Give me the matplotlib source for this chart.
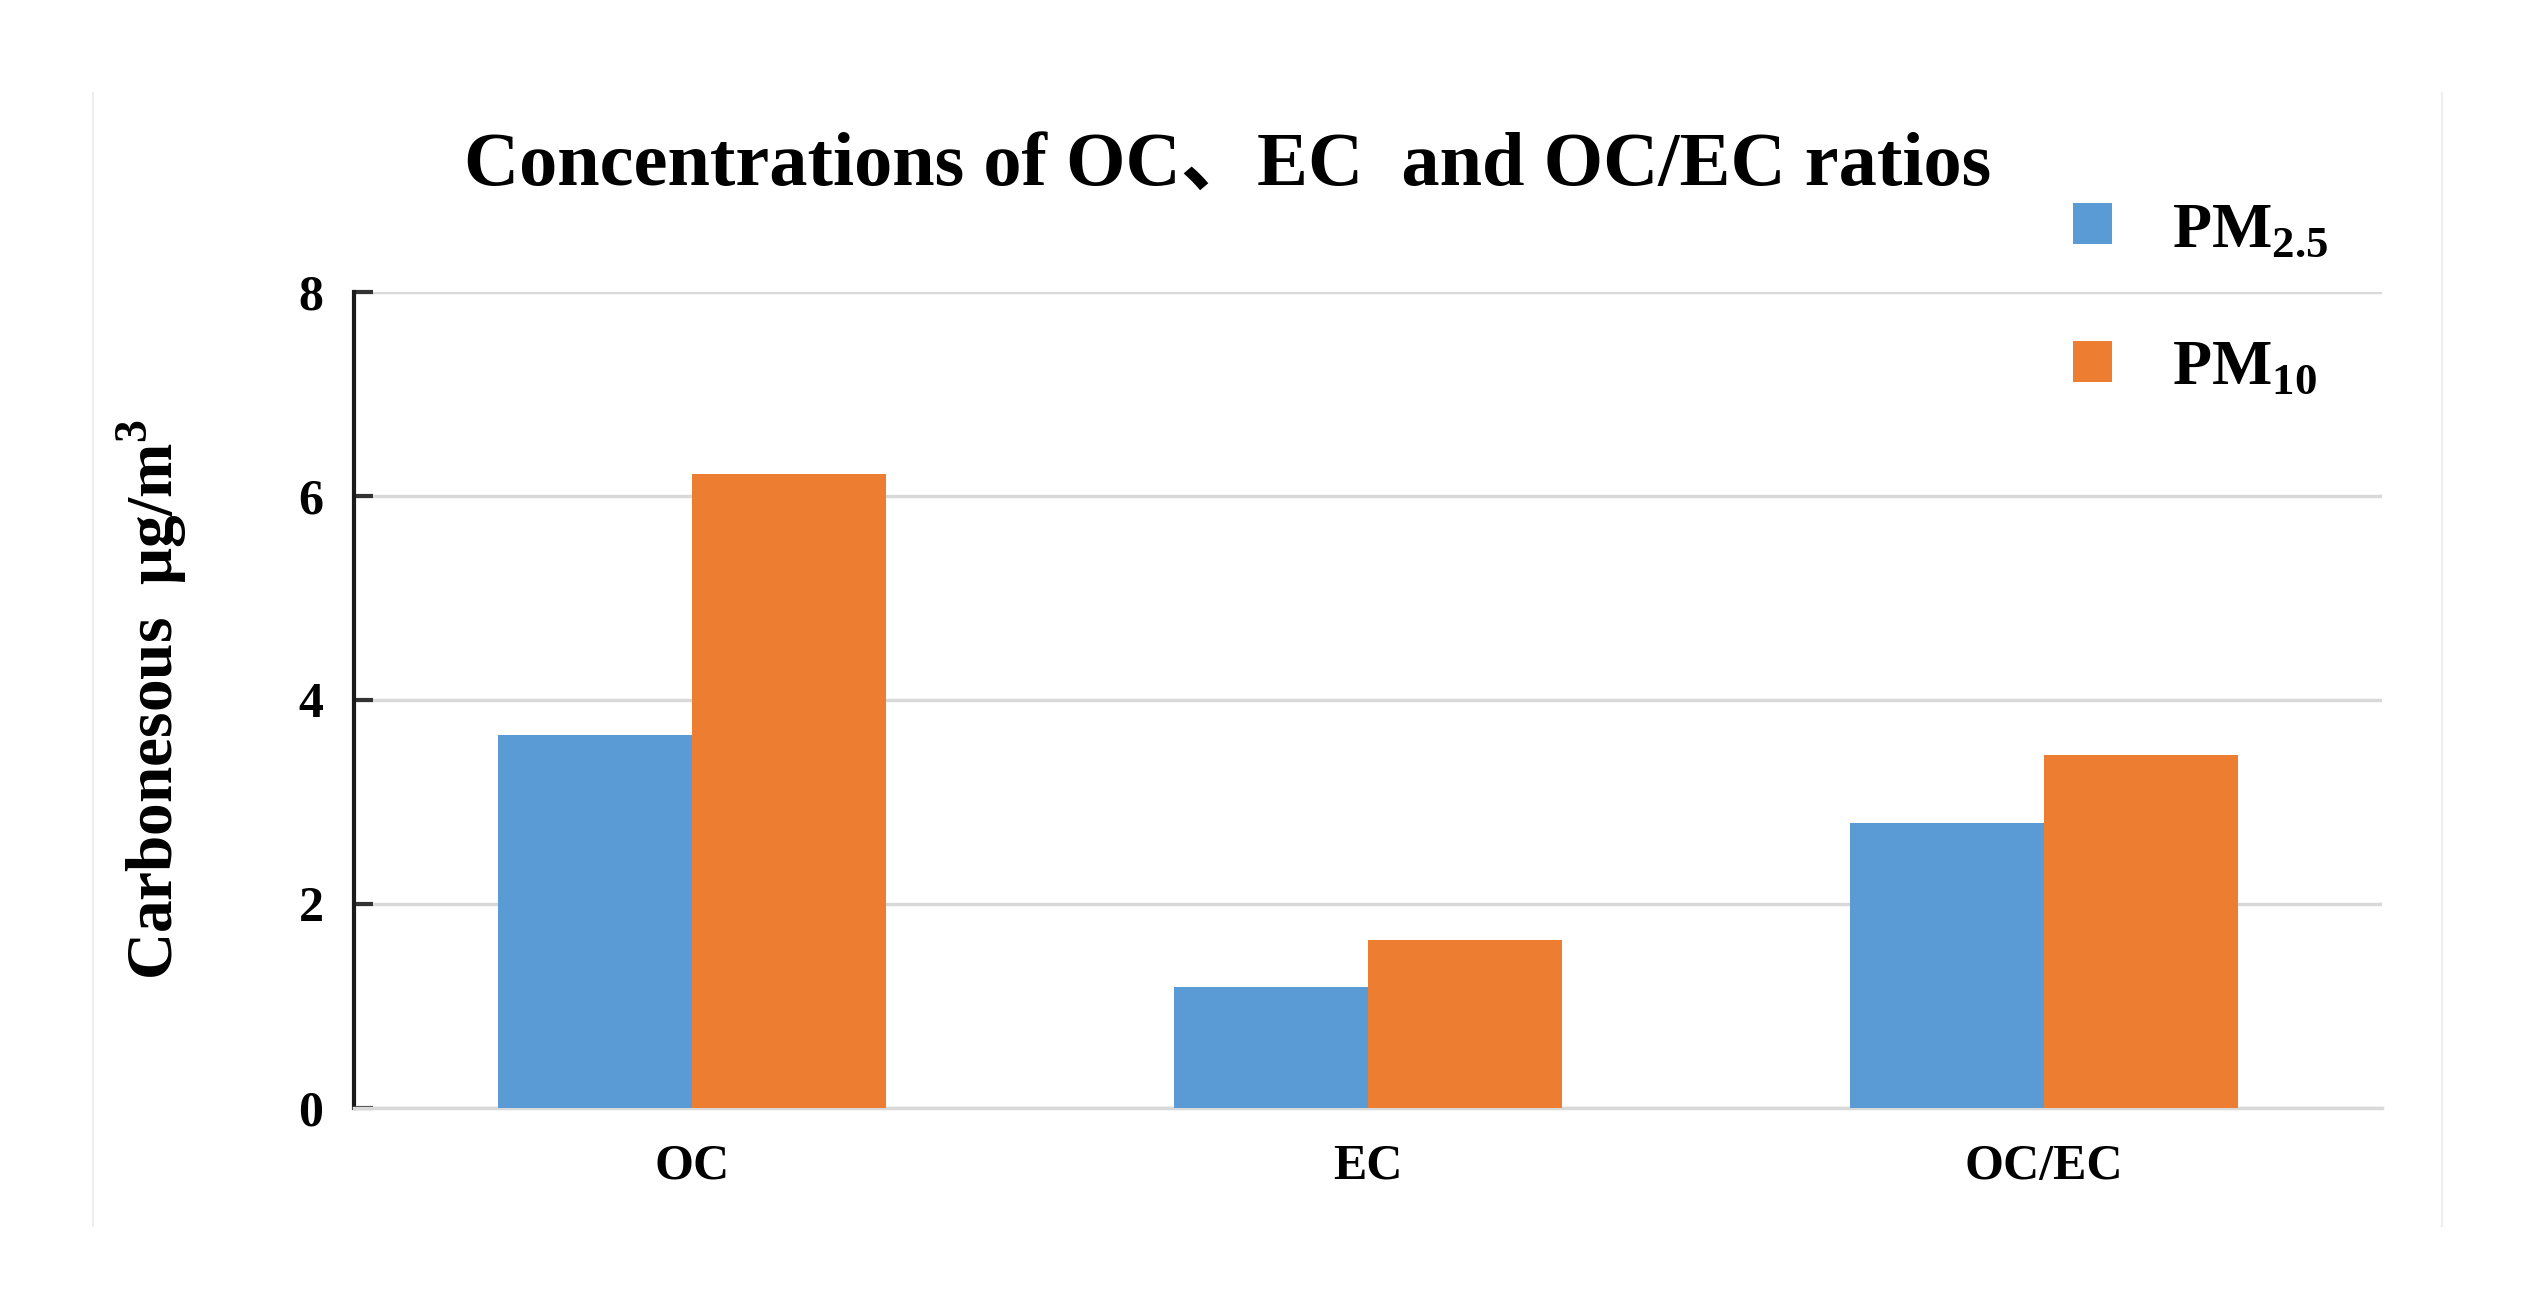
import numpy as np
import matplotlib
matplotlib.use("Agg")
import matplotlib.pyplot as plt
from matplotlib.lines import Line2D
from matplotlib.patches import Patch

plt.rcParams['font.family'] = ['Liberation Serif', 'DejaVu Serif']
plt.rcParams['font.weight'] = 'bold'
plt.rcParams['mathtext.fontset'] = 'custom'
plt.rcParams['mathtext.rm'] = 'Liberation Serif:bold'
plt.rcParams['mathtext.bf'] = 'Liberation Serif:bold'

CATEGORIES = ["OC", "EC", "OC/EC"]
PM25 = [3.65, 1.18, 2.79]
PM10 = [6.21, 1.64, 3.46]
SERIES_LABELS = [r'PM$_{\mathbf{2.5}}$', r'PM$_{\mathbf{10}}$']
Y_TICKS = [0, 2, 4, 6, 8]

BLUE = '#5B9BD5'
ORANGE = '#ED7D31'

fig = plt.figure(figsize=(25.34, 13.14), dpi=100)
ax = fig.add_axes([0.1397, 0.157, 0.9400 - 0.1397, 0.778 - 0.157])

x = np.arange(len(CATEGORIES))
w = 0.287
ax.bar(x - w / 2, PM25, width=w, color=BLUE, zorder=3)
ax.bar(x + w / 2, PM10, width=w, color=ORANGE, zorder=3)

ax.set_xlim(-0.5, 2.5)
ax.set_ylim(0, 8)
ax.set_yticks(Y_TICKS)
ax.yaxis.grid(True, color='#d9d9d9', linewidth=2.5, zorder=0)
ax.set_axisbelow(True)

for s in ['top', 'right']:
    ax.spines[s].set_visible(False)
ax.spines['bottom'].set_color('#d9d9d9')
ax.spines['bottom'].set_linewidth(2.5)
ax.spines['left'].set_color('#1a1a1a')
ax.spines['left'].set_linewidth(3)

ax.set_xticks(x)
ax.set_xticklabels(CATEGORIES, fontsize=36, fontweight='bold')
ax.tick_params(axis='x', length=0, pad=26)
ax.tick_params(axis='y', direction='in', length=14, width=3, color='#333333',
               labelsize=36, pad=22)

ax.set_ylabel(r'Carbonesous  μg/m$^{\mathbf{3}}$', fontsize=47, fontweight='bold',
              labelpad=78)

fig.text(0.4846, 0.873, 'Concentrations of OC、EC  and OC/EC ratios',
         ha='center', va='center', fontsize=55, fontweight='bold',
         family=['Liberation Serif', 'Noto Sans CJK SC'])

handles = [Patch(facecolor=BLUE), Patch(facecolor=ORANGE)]
fig.legend(handles, SERIES_LABELS, loc='upper left',
           bbox_to_anchor=(0.7955, 0.89), frameon=False, fontsize=46,
           handlelength=0.6, handleheight=0.6, handletextpad=0.95,
           labelspacing=1.25)

# faint frame lines
fig.add_artist(Line2D([93 / 2534, 93 / 2534], [1 - 93 / 1314, 1 - 1226 / 1314],
                      color='#eeeeee', linewidth=1.5))
fig.add_artist(Line2D([2442 / 2534, 2442 / 2534], [1 - 93 / 1314, 1 - 1226 / 1314],
                      color='#eeeeee', linewidth=1.5))

fig.savefig('out.png', dpi=100)
